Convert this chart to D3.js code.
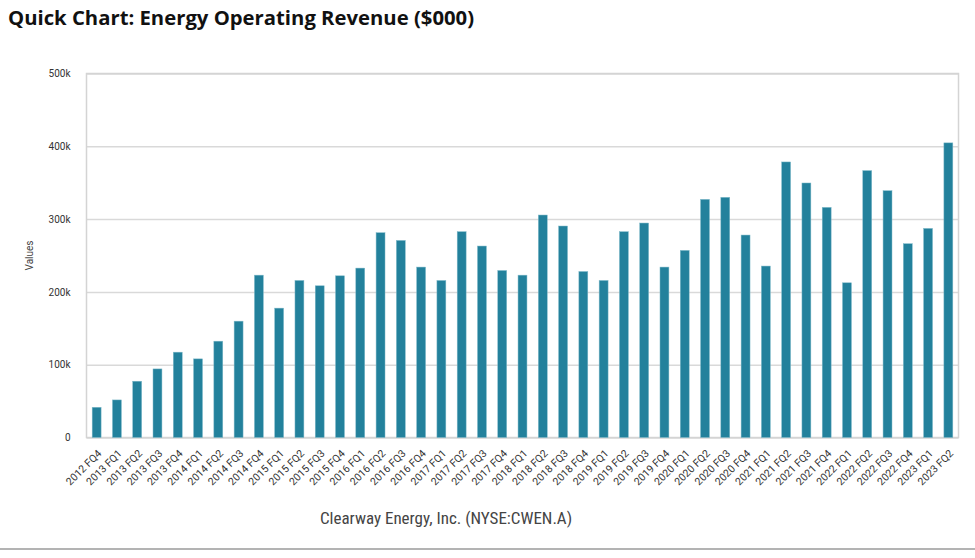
<!DOCTYPE html>
<html>
<head>
<meta charset="utf-8">
<script src="https://cdn.jsdelivr.net/npm/d3@7"></script>
<style>
  body { margin: 0; background: #fff; }
  svg { display: block; }
</style>
</head>
<body>
<div id="chart"></div>
<script>
// Quarterly energy operating revenue ($000)
const quarters = [
  "2012 FQ4",
  "2013 FQ1", "2013 FQ2", "2013 FQ3", "2013 FQ4",
  "2014 FQ1", "2014 FQ2", "2014 FQ3", "2014 FQ4",
  "2015 FQ1", "2015 FQ2", "2015 FQ3", "2015 FQ4",
  "2016 FQ1", "2016 FQ2", "2016 FQ3", "2016 FQ4",
  "2017 FQ1", "2017 FQ2", "2017 FQ3", "2017 FQ4",
  "2018 FQ1", "2018 FQ2", "2018 FQ3", "2018 FQ4",
  "2019 FQ1", "2019 FQ2", "2019 FQ3", "2019 FQ4",
  "2020 FQ1", "2020 FQ2", "2020 FQ3", "2020 FQ4",
  "2021 FQ1", "2021 FQ2", "2021 FQ3", "2021 FQ4",
  "2022 FQ1", "2022 FQ2", "2022 FQ3", "2022 FQ4",
  "2023 FQ1", "2023 FQ2"
];

const revenue = [
  41500,
  51600, 77300, 94200, 117200,
  108000, 132300, 159800, 223000,
  177700, 215700, 208400, 222100,
  232700, 281300, 270700, 234100,
  215700, 282700, 263000, 229400,
  223000, 305600, 290500, 228000,
  215700, 282700, 294600, 234100,
  257000, 327100, 329900, 278100,
  235500, 378500, 349600, 316100,
  212500, 366600, 339000, 266200,
  287200, 404700
];

const yTicks = [0, 100000, 200000, 300000, 400000, 500000];
const yTickLabels = ["0", "100k", "200k", "300k", "400k", "500k"];

const W = 975, H = 558;
const margin = { top: 73.5, right: 16.5, bottom: 120.5, left: 86.5 };
const width = W - margin.left - margin.right,
      height = H - margin.top - margin.bottom;

const svg = d3.select("#chart").append("svg")
    .attr("width", W)
    .attr("height", H);

// Title
svg.append("text")
    .attr("x", 8)
    .attr("y", 25)
    .style("font-family", "'Open Sans', sans-serif")
    .style("font-weight", "700")
    .style("font-size", "20.3px")
    .style("fill", "#111")
    .text("Quick Chart: Energy Operating Revenue ($000)");

const g = svg.append("g")
    .attr("transform", `translate(${margin.left},${margin.top})`);

const x = d3.scaleBand()
    .domain(quarters)
    .range([0, width])
    .paddingInner(0.56)
    .paddingOuter(0.28);

const y = d3.scaleLinear()
    .domain([0, 500000])
    .range([height, 0]);

// gridlines
g.append("g")
    .attr("class", "grid")
    .call(d3.axisLeft(y).tickValues(yTicks).tickSize(-width).tickFormat(""))
    .call(s => s.select(".domain").remove())
    .call(s => s.selectAll("line").attr("stroke", "#d9d9d9").attr("stroke-width", 1.5));

// frame
g.append("rect")
    .attr("x", 0)
    .attr("y", 0)
    .attr("width", width)
    .attr("height", height)
    .attr("fill", "none")
    .attr("stroke", "#d4d4d4")
    .attr("stroke-width", 1.5);

// bars
g.selectAll(".bar")
    .data(revenue)
    .enter().append("rect")
    .attr("class", "bar")
    .attr("x", (d, i) => x(quarters[i]))
    .attr("y", d => y(d))
    .attr("width", x.bandwidth())
    .attr("height", d => height - y(d))
    .attr("fill", "#23819c")
    .attr("stroke", "#7fb9c9")
    .attr("stroke-width", 0.5);

// Y axis labels
g.append("g")
    .call(d3.axisLeft(y).tickValues(yTicks).tickSize(0).tickPadding(16)
        .tickFormat((d, i) => yTickLabels[i]))
    .call(s => s.select(".domain").remove())
    .call(s => s.selectAll("text")
        .style("font-family", "Roboto, sans-serif")
        .style("font-size", "10px")
        .style("fill", "#333"));

// X axis labels
g.append("g")
    .attr("transform", `translate(0,${height})`)
    .call(d3.axisBottom(x).tickSize(0).tickPadding(0))
    .call(s => s.select(".domain").remove())
    .call(s => s.selectAll("text")
        .attr("text-anchor", "end")
        .attr("dy", "0.35em")
        .attr("transform", "translate(3,14) rotate(-45)")
        .style("font-family", "Roboto, sans-serif")
        .style("font-size", "10.5px")
        .style("fill", "#333"));

// Y axis title
svg.append("text")
    .attr("transform", `translate(33,${margin.top + height / 2}) rotate(-90)`)
    .attr("text-anchor", "middle")
    .style("font-family", "Roboto, sans-serif")
    .style("font-size", "10px")
    .style("fill", "#444")
    .text("Values");

// source caption
svg.append("text")
    .attr("x", 446)
    .attr("y", 524)
    .attr("text-anchor", "middle")
    .style("font-family", "'Liberation Sans Narrow', 'Roboto Condensed', sans-serif")
    .style("font-stretch", "condensed")
    .style("font-size", "17px")
    .style("fill", "#444")
    .text("Clearway Energy, Inc. (NYSE:CWEN.A)");

// bottom rule
svg.append("line")
    .attr("x1", 0)
    .attr("x2", W)
    .attr("y1", 549)
    .attr("y2", 549)
    .attr("stroke", "#b3b3b3")
    .attr("stroke-width", 2);
</script>
</body>
</html>
